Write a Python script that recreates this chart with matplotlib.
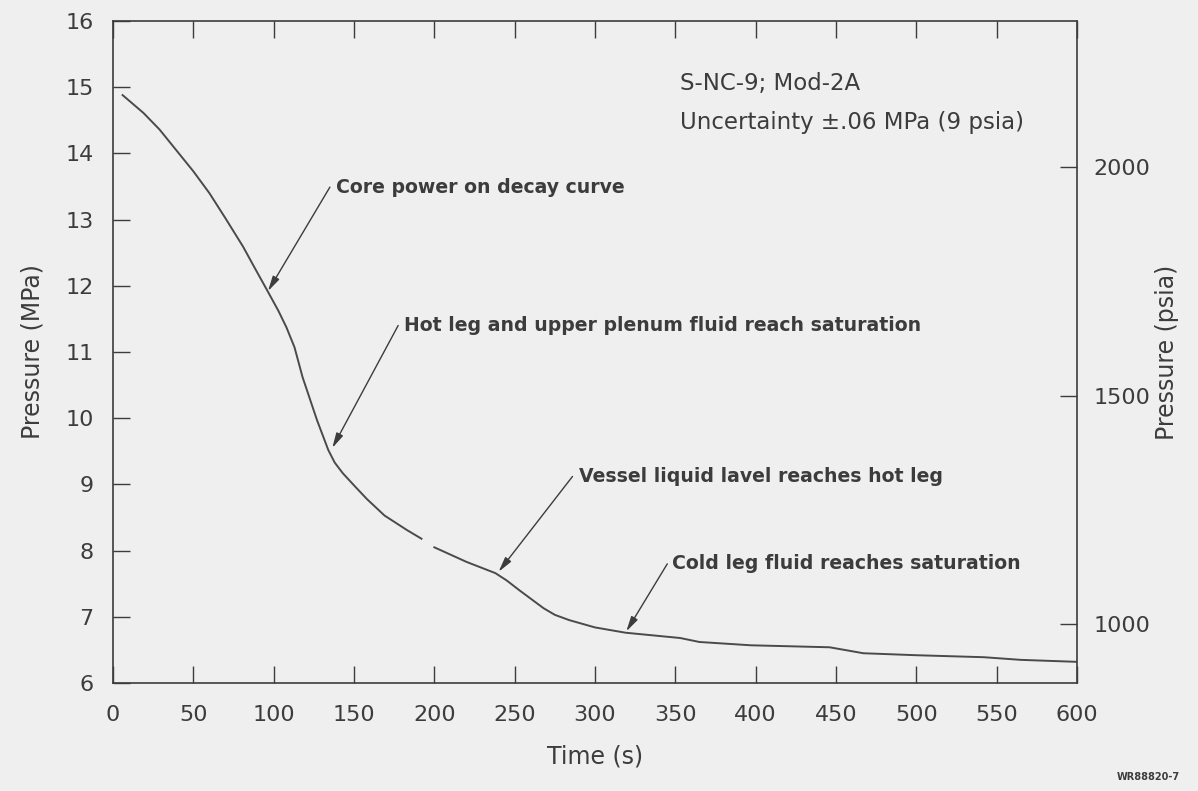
import numpy as np
import matplotlib.pyplot as plt

# pressure history (MPa vs s); nan = gap in the trace
time_s = [6, 19, 29, 40, 50, 60, 70, 81, 88, 96, 103, 108, 113, 118, 127,
          134, 138, 143, 151, 158, 169, 183, 192, 196, 200, 220, 238, 245,
          253, 268, 275, 284, 300, 319, 353, 365, 397, 446, 467, 500, 542,
          565, 600]
pressure_mpa = [14.88, 14.61, 14.36, 14.03, 13.73, 13.40, 13.02, 12.59, 12.28,
                11.93, 11.62, 11.37, 11.07, 10.62, 9.97, 9.52, 9.33, 9.17,
                8.96, 8.78, 8.53, 8.31, 8.18, np.nan, 8.05, 7.83, 7.66, 7.55,
                7.40, 7.13, 7.03, 6.95, 6.84, 6.76, 6.68, 6.62, 6.57, 6.54,
                6.45, 6.42, 6.39, 6.35, 6.32]

x_ticks = list(range(0, 601, 50))
y_ticks = list(range(6, 17))
psia_ticks = [1000, 1500, 2000]
MPA_TO_PSI = 145.038

# annotations: label, arrow head (t, p), arrow tail (t, p), text anchor (t, p)
notes = [
    ("Core power on decay curve", (96.5, 11.92), (135, 13.49), (138.5, 13.49)),
    ("Hot leg and upper plenum fluid reach saturation", (136.5, 9.55), (177.5, 11.4), (181, 11.4)),
    ("Vessel liquid lavel reaches hot leg", (240, 7.68), (286, 9.12), (290, 9.12)),
    ("Cold leg fluid reaches saturation", (319.5, 6.78), (345, 7.8), (348, 7.8)),
]

ink = "#3c3c3c"
paper = "#efefef"
plt.rcParams["font.family"] = ["DejaVu Sans"]

fig = plt.figure(figsize=(11.98, 7.91), dpi=100, facecolor=paper)
ax = fig.add_axes([0.0943, 0.1365, 0.8047, 0.837])
ax.set_facecolor(paper)

ax.plot(time_s, pressure_mpa, color="#4a4a4a", lw=1.4)

ax.set_xlim(0, 600)
ax.set_ylim(6, 16)
ax.set_xticks(x_ticks)
ax.set_yticks(y_ticks)
ax.tick_params(axis="x", direction="in", length=12, width=1, color=ink,
               labelsize=16, labelcolor=ink, pad=16, top=True)
ax.tick_params(axis="y", direction="in", length=12, width=1, color=ink,
               labelsize=16, labelcolor=ink, pad=14)
for s in ax.spines.values():
    s.set_color(ink)
    s.set_linewidth(1.2)

ax.set_xlabel("Time (s)", fontsize=17, color=ink, labelpad=14)
ax.set_ylabel("Pressure (MPa)", fontsize=17, color=ink, labelpad=15)

ax2 = ax.twinx()
ax2.set_ylim(6 * MPA_TO_PSI, 16 * MPA_TO_PSI)
ax2.set_yticks(psia_ticks)
ax2.tick_params(axis="y", direction="in", length=12, width=1, color=ink,
                labelsize=16, labelcolor=ink, pad=12)
ax2.set_ylabel("Pressure (psia)", fontsize=17, color=ink, labelpad=3)
for s in ax2.spines.values():
    s.set_visible(False)

for label, head, tail, pos in notes:
    ax.annotate("", xy=head, xytext=tail,
                arrowprops=dict(arrowstyle="-|>,head_length=0.9,head_width=0.22",
                                color=ink, lw=1, shrinkA=0, shrinkB=0))
    ax.text(pos[0], pos[1], label, fontsize=13.6, fontweight="bold",
            color=ink, va="center", ha="left")

ax.text(353, 15.05, "S-NC-9; Mod-2A", fontsize=16.5, color=ink, va="center")
ax.text(353, 14.47, "Uncertainty \u00b1.06 MPa (9 psia)", fontsize=16.5,
        color=ink, va="center")

fig.text(0.985, 0.012, "WR88820-7", fontsize=7, fontweight="bold",
         color=ink, ha="right", va="bottom")

fig.savefig("out.png", dpi=100, facecolor=paper)
